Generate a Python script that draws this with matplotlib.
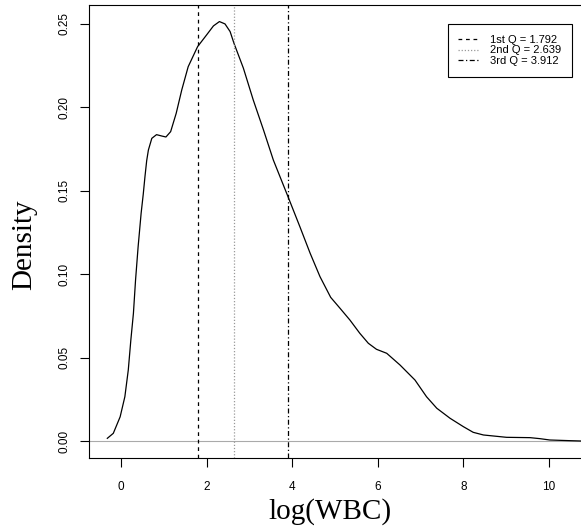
import matplotlib
matplotlib.use("Agg")
import matplotlib.pyplot as plt

# density curve of log(WBC)
x = [-0.32, -0.18, -0.02, 0.09, 0.17, 0.23, 0.29, 0.34, 0.40, 0.47, 0.52, 0.56,
     0.60, 0.64, 0.72, 0.83, 0.95, 1.05, 1.16, 1.29, 1.42, 1.57, 1.79, 2.00,
     2.16, 2.30, 2.43, 2.55, 2.64, 2.86, 3.09, 3.33, 3.56, 3.91, 4.18, 4.42,
     4.65, 4.90, 5.12, 5.35, 5.58, 5.78, 5.97, 6.21, 6.52, 6.87, 7.14, 7.38,
     7.69, 8.00, 8.23, 8.47, 9.01, 9.56, 9.79, 10.02, 10.49, 10.75]
y = [0.0018, 0.0048, 0.0147, 0.0267, 0.0427, 0.0607, 0.0766, 0.0966, 0.1165,
     0.1365, 0.1480, 0.1585, 0.1680, 0.1744, 0.1814, 0.1836, 0.1828, 0.1822,
     0.1854, 0.1964, 0.2104, 0.2243, 0.2363, 0.2433, 0.2487, 0.2513, 0.2499,
     0.2453, 0.2383, 0.2234, 0.2044, 0.1864, 0.1684, 0.1460, 0.1285, 0.1126,
     0.0986, 0.0862, 0.0796, 0.0726, 0.0647, 0.0587, 0.0551, 0.0527, 0.0457,
     0.0367, 0.0267, 0.0198, 0.0138, 0.0088, 0.0054, 0.0038, 0.0024, 0.0022,
     0.0016, 0.0008, 0.0004, 0.0002]

quart_vals = [1.792, 2.639, 3.912]
quart_names = ["1st Q", "2nd Q", "3rd Q"]
quart_styles = [(0, (3, 3)), (0, (1, 1.5)), (0, (4, 2, 1, 2))]
quart_colors = ["black", "#999999", "black"]

xticks = [0, 2, 4, 6, 8, 10]
yticks = [0.00, 0.05, 0.10, 0.15, 0.20, 0.25]

plt.rcParams["font.family"] = ["Liberation Sans", "DejaVu Sans"]

fig = plt.figure(figsize=(5.81, 5.28), dpi=100)
ax = fig.add_axes([89/581, (528-457.7)/528, (581-89)/581, 453/528])

ax.axhline(0, color="#aaaaaa", lw=0.8)
ax.plot(x, y, color="black", lw=0.9)
for q, nm, ls, c in zip(quart_vals, quart_names, quart_styles, quart_colors):
    ax.axvline(q, color=c, ls=ls, lw=0.9, label=f"{nm} = {q:.3f}")

ax.set_xlim(-0.748, 10.75)
ax.set_ylim(-0.0098, 0.2614)
ax.set_xticks(xticks)
ax.set_xticklabels([str(v) for v in xticks])
ax.set_yticks(yticks)
ax.set_yticklabels([f"{v:.2f}" for v in yticks], rotation=90, va="center")
ax.tick_params(axis="both", direction="out", length=6.5, width=0.8, labelsize=8.5)
ax.tick_params(axis="x", pad=10)
ax.tick_params(axis="y", pad=7)
for side in ["left", "bottom", "top"]:
    ax.spines[side].set_linewidth(0.8)
ax.spines["right"].set_visible(False)

ax.set_xlabel("log(WBC)", family="Liberation Serif", fontsize=21)
ax.set_ylabel("Density", family="Liberation Serif", fontsize=21, va="center")
ax.xaxis.set_label_coords(0.4895, -0.088)
ax.yaxis.set_label_coords(-0.132, 0.47)

ax.legend(loc="upper right", bbox_to_anchor=(0.9817, 0.9574), fontsize=8.0,
          frameon=True, fancybox=False, edgecolor="black", framealpha=1,
          handlelength=1.8, handletextpad=1.1, labelspacing=0.08, borderpad=0.95,
          borderaxespad=0)
leg = ax.get_legend()
leg.get_frame().set_linewidth(0.8)

fig.savefig("out.png", dpi=100)
